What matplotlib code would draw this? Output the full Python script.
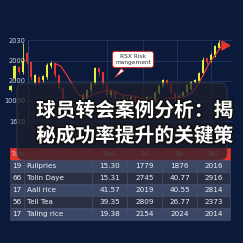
import matplotlib
matplotlib.use("Agg")
import matplotlib.pyplot as plt
import matplotlib.patheffects as pe
from matplotlib.patches import FancyBboxPatch
import numpy as np

# candle data (index, open, close, high, low)
idx = np.arange(54)
opens = [2005.5, 2011.2, 2016.7, 2014.2, 2023.6, 2019.1, 2008.8, 2011.7, 2010.2, 2011.7,
         2017.2, 2018.6, 2012.7, 2006.3, 2000.4, 1995.4, 1998.5, 1995.0, 1998.5, 2001.0,
         2005.3, 2008.8, 2016.2, 2014.2, 2007.8, 2003.0, 2005.0, 2001.0, 1998.0, 2001.5,
         1999.0, 2002.0, 1998.5, 1996.0, 1999.5, 2002.0, 2000.0, 2004.0, 2007.5, 2010.2,
         2008.3, 2004.0, 2001.0, 2002.5, 2004.3, 2006.0, 2009.3, 2010.0, 2013.7, 2021.1,
         2020.1, 2022.6, 2026.5, 2028.5]
closes = [2007.5, 2017.2, 2014.2, 2020.0, 2019.1, 2011.7, 2012.7, 2008.8, 2012.2, 2017.6,
          2018.6, 2012.7, 2006.3, 2000.4, 1996.5, 1998.5, 1995.0, 1999.0, 2003.0, 2005.3,
          2008.8, 2016.2, 2014.2, 2007.8, 2003.0, 2005.0, 2001.0, 1998.0, 2001.5, 1999.0,
          2002.0, 1998.5, 1996.0, 1999.5, 2002.0, 2000.0, 2004.0, 2007.5, 2010.2, 2008.3,
          2004.0, 2001.0, 2002.5, 2004.3, 2007.8, 2009.3, 2010.2, 2013.7, 2020.1, 2019.1,
          2022.6, 2027.5, 2029.0, 2026.5]
highs = [2008.0, 2018.0, 2017.5, 2029.0, 2024.5, 2019.5, 2013.5, 2012.5, 2013.0, 2019.0,
         2020.0, 2019.5, 2013.0, 2007.0, 2001.0, 1999.5, 1999.0, 2000.0, 2004.0, 2006.0,
         2009.5, 2017.0, 2016.8, 2014.5, 2008.5, 2006.0, 2005.5, 2002.0, 2002.5, 2002.0,
         2003.0, 2002.5, 1999.0, 2000.5, 2003.0, 2002.5, 2005.0, 2008.5, 2011.0, 2010.8,
         2008.8, 2004.5, 2003.5, 2005.0, 2008.5, 2010.0, 2011.0, 2014.5, 2022.0, 2021.5,
         2024.0, 2028.0, 2030.0, 2029.0]
lows = [2005.0, 2010.5, 2013.5, 2013.5, 2018.5, 2010.5, 2008.0, 2008.0, 2009.5, 2011.0,
        2016.5, 2012.0, 2005.5, 1999.0, 1995.0, 1994.5, 1993.0, 1994.0, 1998.0, 2000.0,
        2004.0, 2008.0, 2013.0, 2006.0, 2002.0, 2002.0, 2000.0, 1997.0, 1997.0, 1998.0,
        1998.0, 1997.5, 1995.0, 1995.0, 1999.0, 1999.0, 1999.5, 2003.5, 2007.0, 2008.0,
        2003.5, 2000.0, 2000.0, 2002.0, 2003.5, 2005.5, 2009.0, 2009.5, 2013.0, 2018.5,
        2019.5, 2022.0, 2026.0, 2026.0]

# moving-average style red line
ma_x = [11, 12.5, 14, 15.5, 17, 19, 22, 25, 28, 31, 34, 37, 40, 43, 45, 46.5, 48, 49.5, 51, 52.5, 53.5]
ma_y = [2018.6, 2017.2, 2012.7, 2007.8, 2002.8, 2001.8, 2004.3, 2005.3, 2002.8, 2002.3, 2000.4,
        2000.4, 2001.4, 2001.8, 2003.8, 2007.3, 2012.7, 2018.6, 2022.6, 2027.0, 2027.5]

ytick_vals = [2030, 2020, 2010, 2000, 1990]
ytick_labels = ["2030", "2000", "2000", "10000", "1610"]

# table
col_labels = ["Tame", "", "Ttal", "Tal", "Tal", "Tall"]
rank = ["19", "66", "17", "56", "17"]
names = ["Fullpries", "Tolin Daye", "Aall rice", "Tell Tea", "Taling rice"]
col_a = ["15.30", "15.31", "41.57", "39.35", "19.38"]
col_b = ["1779", "2745", "2019", "2809", "2154"]
col_c = ["1876", "40.77", "40.55", "26.77", "2024"]
col_d = ["2016", "2916", "2814", "2373", "2014"]

title_lines = ["球员转会案例分析：揭", "秘成功率提升的关键策"]

BG = "#0b1a3a"
UP = "#e4ef3c"
DOWN = "#e8342b"

fig = plt.figure(figsize=(2.43, 2.43), dpi=100, facecolor=BG)

ax = fig.add_axes([0.115, 0.477, 0.844, 0.358], zorder=1)
ax.set_facecolor("none")
colors = [UP if c >= o else DOWN for o, c in zip(opens, closes)]
body = np.array(closes) - np.array(opens)
ax.vlines(idx, lows, highs, colors=colors, linewidth=0.6, clip_on=False, zorder=3)
bars = ax.bar(idx, body, bottom=opens, width=0.72, color=colors, zorder=4)
for b in bars:
    b.set_clip_on(False)
ax.plot(ma_x, ma_y, color="#ff3b30", linewidth=0.8, zorder=5, clip_on=False)
ax.annotate("", xy=(55.6, ma_y[-1]), xytext=(53.5, ma_y[-1]),
            arrowprops=dict(arrowstyle="-|>,head_length=0.5,head_width=0.3", color=DOWN, lw=1.2),
            annotation_clip=False, zorder=6)

ax.set_xlim(4.25, 55.5)
ax.set_ylim(1987, 2030.2)
ax.set_yticks(ytick_vals)
ax.set_yticklabels(ytick_labels)
ax.set_xticks([24, 33, 41.5, 50])
ax.set_xticklabels([])
ax.tick_params(length=0, pad=1.5, labelsize=4.8, labelcolor="#d0d4e0")
ax.grid(True, color="#2c3b60", linewidth=0.5)
for s in ax.spines.values():
    s.set_visible(False)
ax.axvline(4.25, color="#3a4870", linewidth=0.6)

ax.annotate("RSX Risk\nmangement", xy=(25.5, 2010.7), xytext=(30.5, 2020.6),
            ha="center", va="center", fontsize=4.2, color="#333333",
            bbox=dict(boxstyle="round,pad=0.45", fc="white", ec="#d0302a", lw=0.7),
            arrowprops=dict(arrowstyle="wedge,tail_width=0.6", fc="white", ec="#d0302a", lw=0.5),
            zorder=7)

# table
tab_ax = fig.add_axes([10 / 243, 1 - 220 / 243, 220 / 243, 72 / 243], zorder=2)
tab_ax.axis("off")
cell_text = [list(r) for r in zip(rank, names, col_a, col_b, col_c, col_d)]
row_cols = ["#3c4765", "#2a3145"]
cell_colours = [[row_cols[i % 2]] * 6 for i in range(len(rank))]
widths = np.array([14, 68, 35, 35, 35, 33]) / 220
table = tab_ax.table(cellText=cell_text, colLabels=col_labels, cellColours=cell_colours,
                     colColours=[DOWN] * 6, colWidths=widths, cellLoc="center",
                     colLoc="center", bbox=[0, 0, 1, 1])
table.auto_set_font_size(False)
table.set_fontsize(5.2)
for (r, c), cell in table.get_celld().items():
    cell.set_edgecolor("#4a5573")
    cell.set_linewidth(0.4)
    txt = cell.get_text()
    txt.set_color("#eef0f6")
    if r == 0:
        cell.set_edgecolor(DOWN)
        txt.set_color("#d8a0a0")
        txt.set_fontsize(4.8)
        if c == 0:
            txt.set_horizontalalignment("left")
            cell.PAD = 0.1
    elif c == 1:
        txt.set_horizontalalignment("left")
        cell.PAD = 0.04

# translucent overlay panel
panel = FancyBboxPatch((17 / 243, 1 - 160 / 243), 210 / 243, 77 / 243,
                       boxstyle="round,pad=0,rounding_size=0.03",
                       transform=fig.transFigure, fc="#1c1f2a", ec="#3c404c",
                       lw=0.7, alpha=0.72, zorder=3)
fig.add_artist(panel)

for k, line in enumerate(title_lines):
    fig.text(36 / 243, 1 - (111 + 25 * k) / 243, line, ha="left", va="center",
             fontsize=14.2, fontweight="bold", color="white",
             family=["Noto Sans CJK SC", "DejaVu Sans"], zorder=4,
             path_effects=[pe.withStroke(linewidth=2.2, foreground="#111111")])

fig.savefig("out.png", dpi=100, facecolor=BG)
